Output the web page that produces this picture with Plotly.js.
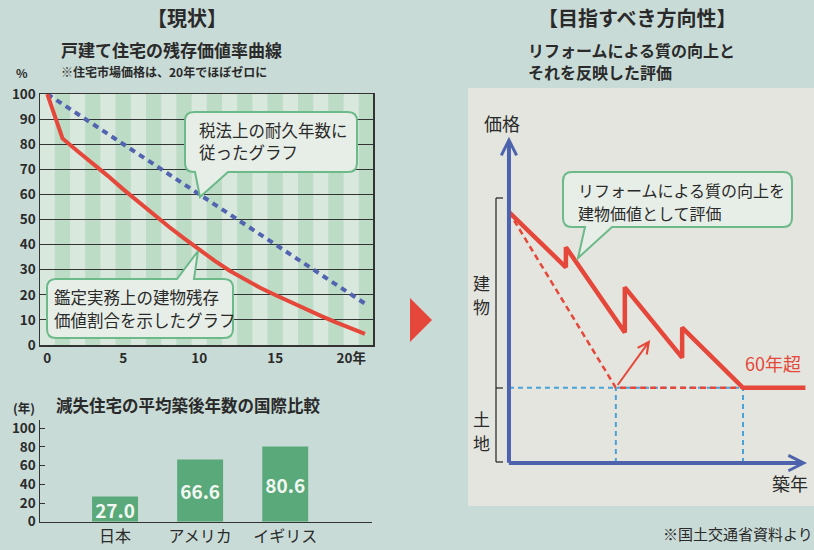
<!DOCTYPE html>
<html><head><meta charset="utf-8">
<script src="https://cdn.plot.ly/plotly-3.0.1.min.js"></script>
<style>html,body{margin:0;padding:0;background:#c9dbd7;}#chart{width:814px;height:550px;}</style>
</head><body><div id="chart"></div>
<script>
// ---- data ----
const years = [0,1,2,3,4,5,6,7,8,9,10,11,12,13,14,15,16,17,18,19,20,20.9];
const appraisalPct = [100,82.3,77.2,72.5,67.3,62,56.9,51.9,47.1,42.5,38,33.6,29.6,26,22.8,19.9,17,14.3,11.6,9,6.6,4.4];
const taxYears = [0,20.9];
const taxPct = [100,16.5];
const xTickVals = [0,5,10,15,20];
const xTickText = ['0','5','10','15','20年'];

const countries = ['日本','アメリカ','イギリス'];
const avgAge = [27.0,66.6,80.6];
const barTicks = [0,20,40,60,80,100];

// schematic (conceptual units)
const reformAge = [0,14.6,14.6,29.7,29.7,44.4,44.4,60,76];
const reformPrice = [100,78,86,52,70,42,54,30,30];
const plainAge = [0,27.4,60];
const plainPrice = [100,30,30];
const landLevel = 30;

// ---- helpers ----
const W=814,H=550;
const FONT="'Noto Sans CJK JP','Noto Sans',sans-serif";
const fx=x=>x/W, fy=y=>1-y/H;
const P=(x,y)=>fx(x).toFixed(5)+','+fy(y).toFixed(5);
function callout(x0,y0,x1,y1,r,p){
  let d='M'+P(x0+r,y0);
  if(p.side==='top'){d+=' L'+P(p.a,y0)+' L'+P(p.tx,p.ty)+' L'+P(p.b,y0);}
  d+=' L'+P(x1-r,y0)+' Q'+P(x1,y0)+' '+P(x1,y0+r);
  d+=' L'+P(x1,y1-r)+' Q'+P(x1,y1)+' '+P(x1-r,y1);
  if(p.side==='bottom'){d+=' L'+P(p.b,y1)+' L'+P(p.tx,p.ty)+' L'+P(p.a,y1);}
  d+=' L'+P(x0+r,y1)+' Q'+P(x0,y1)+' '+P(x0,y1-r);
  d+=' L'+P(x0,y0+r)+' Q'+P(x0,y0)+' '+P(x0+r,y0)+' Z';
  return {type:'path',xref:'paper',yref:'paper',path:d,fillcolor:'#e7eee7',line:{color:'#6cb98a',width:2},layer:'above'};
}
function txt(x,y,t,size,opt){
  opt=opt||{};
  return Object.assign({xref:'paper',yref:'paper',x:fx(x),y:fy(y),text:t,showarrow:false,
    xanchor:opt.xa||'center',yanchor:'middle',align:opt.align||'left',borderpad:0,
    font:{family:FONT,size:size,color:opt.color||'#2a2a2a',weight:opt.bold?700:400}},opt.extra||{});
}
function pline(x0,y0,x1,y1,color,w){
  return {type:'line',xref:'paper',yref:'paper',x0:fx(x0),y0:fy(y0),x1:fx(x1),y1:fy(y1),line:{color:color,width:w},layer:'above'};
}

// ---- traces ----
const traces=[
  {x:taxYears,y:taxPct,type:'scatter',mode:'lines',xaxis:'x',yaxis:'y',
   line:{color:'#5263b0',width:4,dash:'6px,5px'},hoverinfo:'skip'},
  {x:years,y:appraisalPct,type:'scatter',mode:'lines',xaxis:'x',yaxis:'y',
   line:{color:'#e5483a',width:4},hoverinfo:'skip'},
  {x:countries,y:avgAge,type:'bar',xaxis:'x2',yaxis:'y2',width:0.54,
   marker:{color:'#5aa97a'},texttemplate:'%{y:.1f}',textposition:'inside',insidetextanchor:'middle',
   constraintext:'none',textfont:{family:FONT,size:19,color:'#f2f7f2',weight:700},hoverinfo:'skip'},
  // schematic
  {x:[0,plainAge[2]],y:[landLevel,landLevel],type:'scatter',mode:'lines',xaxis:'x3',yaxis:'y3',
   line:{color:'#4aa3d8',width:2,dash:'5px,4px'},hoverinfo:'skip'},
  {x:[plainAge[1],plainAge[1]],y:[0,landLevel],type:'scatter',mode:'lines',xaxis:'x3',yaxis:'y3',
   line:{color:'#4aa3d8',width:2,dash:'5px,4px'},hoverinfo:'skip'},
  {x:[plainAge[2],plainAge[2]],y:[0,landLevel],type:'scatter',mode:'lines',xaxis:'x3',yaxis:'y3',
   line:{color:'#4aa3d8',width:2,dash:'5px,4px'},hoverinfo:'skip'},
  {x:plainAge,y:plainPrice,type:'scatter',mode:'lines',xaxis:'x3',yaxis:'y3',
   line:{color:'#e5483a',width:2.5,dash:'6px,4px'},hoverinfo:'skip'},
  {x:reformAge,y:reformPrice,type:'scatter',mode:'lines',xaxis:'x3',yaxis:'y3',
   line:{color:'#e5483a',width:4.5},hoverinfo:'skip'}
];

// ---- shapes ----
const shapes=[];
// right panel
shapes.push({type:'rect',xref:'paper',yref:'paper',x0:fx(468),x1:1,y0:fy(506),y1:fy(88),fillcolor:'#e3e5de',line:{width:0},layer:'below'});
// stripes of line chart
for(let k=0;k<=21;k++){
  shapes.push({type:'rect',xref:'x',yref:'y',x0:k-0.5,x1:k+0.5,y0:0,y1:100,
    fillcolor:(k%2===0)?'#d9e8dd':'#bcdcc6',line:{width:0},layer:'below'});
}
// callouts
shapes.push(callout(185,112,357,172,9,{side:'bottom',a:195,b:228,tx:200,ty:197}));
shapes.push(callout(47,279,233,338,9,{side:'top',a:177,b:194,tx:198,ty:251}));
shapes.push(callout(563,172,792,227,9,{side:'bottom',a:585,b:612,tx:578,ty:258}));
// bracket
shapes.push(pline(496,198,496,462,'#222',1.2));
shapes.push(pline(496,198,503,198,'#222',1.2));
shapes.push(pline(496,388,503,388,'#222',1.2));
shapes.push(pline(496,462,503,462,'#222',1.2));
// middle triangle
shapes.push({type:'path',xref:'paper',yref:'paper',path:'M'+P(410,298)+' L'+P(432,320)+' L'+P(410,342)+' Z',
  fillcolor:'#e5483a',line:{width:0},layer:'above'});

// ---- annotations ----
const ann=[
  txt(187,18,'【現状】',20,{bold:true}),
  txt(60,49,'戸建て住宅の残存価値率曲線',17,{bold:true,xa:'left'}),
  txt(60,71,'※住宅市場価格は、20年でほぼゼロに',12,{bold:true,xa:'left'}),
  txt(22,73,'%',12,{bold:true}),
  txt(198,130,'税法上の耐久年数に',16.5,{xa:'left'}),
  txt(198,152,'従ったグラフ',16.5,{xa:'left'}),
  txt(53,297,'鑑定実務上の建物残存',16.5,{xa:'left'}),
  txt(53,320,'価値割合を示したグラフ',16.5,{xa:'left'}),
  txt(55,405,'減失住宅の平均築後年数の国際比較',16.5,{bold:true,xa:'left'}),
  txt(24,407,'(年)',12.5,{bold:true}),
  txt(637,18,'【目指すべき方向性】',20,{bold:true}),
  txt(527,50,'リフォームによる質の向上と',16,{bold:true,xa:'left'}),
  txt(527,72,'それを反映した評価',16,{bold:true,xa:'left'}),
  txt(502,123,'価格',18),
  txt(790,483,'築年',18),
  txt(482,282,'建',17),
  txt(482,306,'物',17),
  txt(482,418,'土',17),
  txt(482,442,'地',17),
  txt(773,363,'60年超',18,{color:'#e5483a'}),
  txt(577,190,'リフォームによる質の向上を',16,{xa:'left'}),
  txt(577,213,'建物価値として評価',16,{xa:'left'}),
  txt(814,533,'※国土交通省資料より',15,{xa:'right'}),
  // axis arrows of schematic
  {xref:'x3',yref:'y3',axref:'x3',ayref:'y3',x:0,y:130,ax:0,ay:-0.5,text:'',showarrow:true,
   arrowhead:5,arrowsize:0.75,arrowwidth:4,arrowcolor:'#4d62ad',standoff:0,startstandoff:0},
  {xref:'x3',yref:'y3',axref:'x3',ayref:'y3',x:76.4,y:0,ax:-0.4,ay:0,text:'',showarrow:true,
   arrowhead:5,arrowsize:0.75,arrowwidth:4,arrowcolor:'#4d62ad',standoff:0,startstandoff:0},
  {xref:'x3',yref:'y3',axref:'x3',ayref:'y3',x:36.2,y:49,ax:plainAge[1]+0.2,ay:landLevel+0.5,text:'',showarrow:true,
   arrowhead:5,arrowsize:1.1,arrowwidth:2,arrowcolor:'#e5483a',standoff:0,startstandoff:0}
];

const tickFont={family:FONT,size:13.5,color:'#2a2a2a',weight:700};
const layout={
  width:W,height:H,margin:{l:0,r:0,t:0,b:0},
  paper_bgcolor:'#c9dbd7',plot_bgcolor:'rgba(0,0,0,0)',showlegend:false,
  font:{family:FONT},
  xaxis:{domain:[fx(40),fx(373)],range:[-0.48,21.43],anchor:'y',
    tickvals:xTickVals,ticktext:xTickText,tickfont:tickFont,showgrid:false,zeroline:false,
    showline:true,linecolor:'#333',linewidth:1.5,mirror:true,ticks:''},
  yaxis:{domain:[fy(345),fy(94)],range:[0,100],anchor:'x',dtick:10,tickfont:tickFont,
    showgrid:true,gridcolor:'#333',gridwidth:1.2,zeroline:false,
    showline:true,linecolor:'#333',linewidth:1.5,mirror:true,ticks:''},
  xaxis2:{domain:[fx(40),fx(372)],range:[-0.882,3.02],anchor:'y2',type:'category',
    tickfont:{family:FONT,size:16,color:'#2a2a2a'},showgrid:false,zeroline:false,
    showline:true,linecolor:'#333',linewidth:1.5,ticks:''},
  yaxis2:{domain:[fy(521.7),fy(420)],range:[0,108.9],anchor:'x2',tickvals:barTicks,
    tickfont:tickFont,showgrid:false,zeroline:false,showline:true,linecolor:'#333',linewidth:1.5,
    ticks:'inside',ticklen:5,tickcolor:'#333'},
  xaxis3:{domain:[fx(468),1],range:[-10.5,78.2],anchor:'y3',visible:false,fixedrange:true},
  yaxis3:{domain:[fy(498),fy(82)],range:[-13.9,151.8],anchor:'x3',visible:false,fixedrange:true},
  shapes:shapes,annotations:ann
};
Plotly.newPlot('chart',traces,layout,{displayModeBar:false,staticPlot:true});
</script></body></html>
